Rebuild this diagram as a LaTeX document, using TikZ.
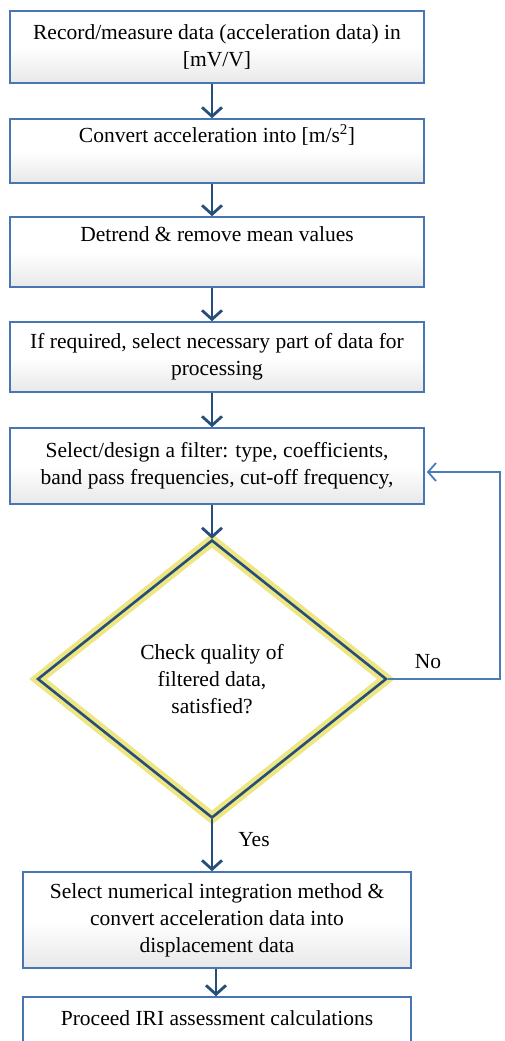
\documentclass[tikz,border=0pt]{standalone}
\usepackage{fontspec}
\setmainfont{Liberation Serif}
\usetikzlibrary{arrows.meta,shapes.geometric}
\definecolor{boxblue}{RGB}{72,118,178}
\definecolor{arrblue}{RGB}{38,78,122}
\definecolor{loopblue}{RGB}{74,124,186}
\definecolor{glow}{RGB}{238,230,130}
\begin{document}
\begin{tikzpicture}[x=1pt, y=-1pt,
  every node/.style={font=\fontsize{21.5}{27}\selectfont},
  stepbox/.style={draw=boxblue, line width=1.6pt, align=center, inner sep=0pt,
    top color=white, bottom color=black!9, middle color=white},
  flow/.style={draw=arrblue, line width=2.8pt, -{Straight Barb[length=9pt, width=20pt]}},
  back/.style={draw=loopblue, line width=1.8pt, -{Straight Barb[length=8pt, width=18pt]}}]
  \useasboundingbox (0,0) rectangle (505,1041);
  \clip (0,0) rectangle (505,1041);

  \node[stepbox, minimum width=414pt, minimum height=72pt] (rec) at (217,47)
    {Record/measure data (acceleration data) in\\ {}[mV/V]};
  \node[stepbox, minimum width=414pt, minimum height=64pt] (conv) at (217,151)
    {Convert acceleration into [m/s\textsuperscript{2}]\\ \strut};
  \node[stepbox, minimum width=414pt, minimum height=70pt] (detr) at (217,252)
    {Detrend \& remove mean values\\ \strut};
  \node[stepbox, minimum width=414pt, minimum height=70pt] (sel) at (217,357)
    {If required, select necessary part of data for\\ processing};
  \node[stepbox, minimum width=414pt, minimum height=76pt] (filt) at (217,466)
    {Select/design a filter: type, coefficients,\\ band pass frequencies, cut-off frequency,};

  \node[diamond, draw=arrblue, line width=2.6pt, inner sep=0pt, align=center,
    minimum width=349pt, minimum height=278pt,
    preaction={draw=glow, line width=11pt}] (chk) at (212,679)
    {Check quality of\\ filtered data,\\ satisfied?};

  \node[stepbox, minimum width=388pt, minimum height=96pt] (integ) at (217,920)
    {Select numerical integration method \&\\ convert acceleration data into\\ displacement data};
  \node[stepbox, minimum width=388pt, minimum height=78pt] (iri) at (217,1036)
    {Proceed IRI assessment calculations\\ \strut};

  \coordinate (ret) at (500,472);

  \draw[flow] (rec.south -| chk.north) -- (conv.north -| chk.north);
  \draw[flow] (conv.south -| chk.north) -- (detr.north -| chk.north);
  \draw[flow] (detr.south -| chk.north) -- (sel.north -| chk.north);
  \draw[flow] (sel.south -| chk.north) -- (filt.north -| chk.north);
  \draw[flow] (filt.south -| chk.north) -- (chk.north);
  \draw[flow] (chk.south) -- (integ.north -| chk.south);
  \draw[flow] ([xshift=4pt]integ.south -| chk.south) -- ([xshift=4pt]iri.north -| chk.south);
  \draw[back] (chk.east) -- (chk.east -| ret) -- (ret) -- ([xshift=2pt]ret -| filt.east);

  \node (no) at (428,662) {No};
  \node (yes) at (254,840) {Yes};
\end{tikzpicture}
\end{document}
